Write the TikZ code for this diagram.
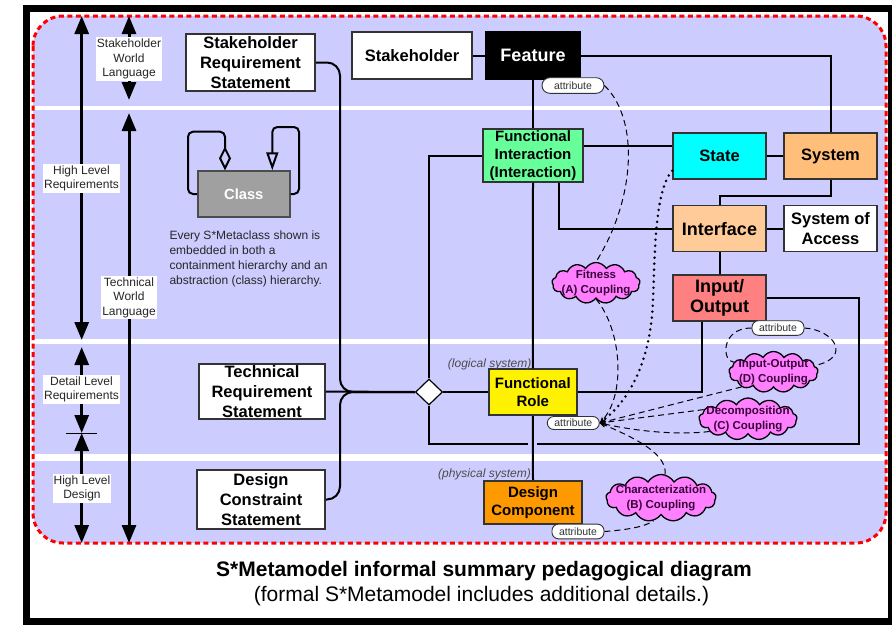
\documentclass[tikz,border=0pt]{standalone}
\usepackage{fontspec}
\setmainfont{Liberation Sans}
\usetikzlibrary{arrows.meta,shapes.geometric,shapes.symbols,calc}

\definecolor{lav}{RGB}{204,204,255}
\definecolor{fgreen}{RGB}{102,255,153}
\definecolor{fcyan}{RGB}{0,255,255}
\definecolor{forange}{RGB}{255,190,122}
\definecolor{fpeach}{RGB}{255,204,153}
\definecolor{fsalmon}{RGB}{255,128,128}
\definecolor{fdeep}{RGB}{255,153,0}
\definecolor{fpink}{RGB}{255,128,255}
\definecolor{cloudink}{RGB}{60,0,60}
\definecolor{clsgray}{RGB}{160,160,160}

\newcommand{\fsz}[2]{\fontsize{#1}{#2}\selectfont}

\begin{document}
\begin{tikzpicture}[x=1pt,y=-1pt,
  box/.style={draw=black!80, line width=1.5pt, align=center, inner sep=0pt,
    font=\bfseries\fsz{16.5}{19.7}},
  conn/.style={line width=2pt, black},
  bigarrow/.style={line width=3pt,
    {Triangle[length=18pt,width=14pt]}-{Triangle[length=18pt,width=14pt]}},
  lbl/.style={fill=white, align=center, font=\fsz{12}{14.5}, text=black!85,
    inner xsep=1pt, inner ysep=1.5pt},
  pill/.style={draw=black!80, fill=white, rounded corners=6.5pt, line width=0.9pt,
    font=\fsz{10.5}{12}, text=black!80, inner sep=0pt,
    minimum width=52pt, minimum height=14pt},
  cloudsty/.style={cloud, cloud puffs=13, cloud puff arc=120, cloud ignores aspect,
    draw=black, fill=fpink, line width=1.3pt, inner sep=0pt},
  ctext/.style={align=center, font=\bfseries\fsz{11.5}{14.8}, text=cloudink, inner sep=0pt},
  dsh/.style={line width=1pt, dash pattern=on 6pt off 4pt},
  dotl/.style={line width=2.8pt, line cap=round, dash pattern=on 0pt off 6pt},
  tipin/.style={-{Stealth[length=6pt,width=5pt]}},
  sysnote/.style={font=\itshape\fsz{12}{14}, text=black!70, inner sep=0pt, anchor=east}
]
\useasboundingbox (0,0) rectangle (892,625);
\fill[white] (0,0) rectangle (892,625);

% outer frame
\draw[line width=7pt] (26.5,8.5) rectangle (891.5,621.5);

% lavender model area with its white level bands and red dashed border
\fill[lav, rounded corners=30pt] (33,16) rectangle (886,543);
\fill[white] (33,106) rectangle (886,110);
\fill[white] (33,339) rectangle (886,344);
\fill[white] (33,454) rectangle (886,461);
\draw[red, line width=3pt, dash pattern=on 5pt off 3.5pt, rounded corners=30pt]
  (33,16) rectangle (886,543);

% level arrows on the left
\coordinate (oa1) at (81.7,16);
\coordinate (oa2) at (81.7,340);
\coordinate (ob1) at (81.7,347);
\coordinate (ob2) at (81.7,433);
\coordinate (oc1) at (81.7,433);
\coordinate (oc2) at (81.7,543);
\coordinate (tk1) at (66,433);
\coordinate (tk2) at (97,433);
\coordinate (ia1) at (129,16);
\coordinate (ia2) at (129,100);
\coordinate (ib1) at (129,113);
\coordinate (ib2) at (129,543);
\draw[bigarrow] (oa1) -- (oa2);
\draw[bigarrow] (ob1) -- (ob2);
\draw[bigarrow] (oc1) -- (oc2);
\draw[line width=1pt] (tk1) -- (tk2);
\draw[bigarrow] (ia1) -- (ia2);
\draw[bigarrow] (ib1) -- (ib2);
\node[lbl] (lhlr) at (81.5,178.5) {High Level\\Requirements};
\node[lbl] (ldlr) at (81.5,389.5) {Detail Level\\Requirements};
\node[lbl] (lhld) at (82,488.5) {High Level\\Design};
\node[lbl] (lswl) at (129,59) {Stakeholder\\World\\Language};
\node[lbl] (ltwl) at (129,297.7) {Technical\\World\\Language};

% class legend
\node[box, fill=clsgray, draw=black!70, text=white, font=\bfseries\fsz{14.7}{17},
  minimum width=92pt, minimum height=46pt] (cls) at (243.8,194) {Class};
\coordinate (lpa) at (188,131.7);
\coordinate (lpb) at (299,127);
\draw[conn, rounded corners=5pt, -{Diamond[open,length=24pt,width=12pt]}]
  (cls.west) -| (lpa) -| (cls.north -| 225,0);
\draw[conn, rounded corners=5pt, -{Triangle[open,length=18pt,width=12pt]}]
  (cls.east) -| (lpb) -| (cls.north -| 272.3,0);
\node[anchor=north west, align=left, font=\fsz{12}{14.7}, text=black!85, inner sep=0pt]
  (note) at (169.3,231) {Every S*Metaclass shown is\\embedded in both a\\containment hierarchy and an\\abstraction (class) hierarchy.};

% metaclasses
\node[box, fill=white, minimum width=129pt, minimum height=57pt] (srs) at (250.5,62.5) {Stakeholder\\Requirement\\Statement};
\node[box, fill=white, minimum width=120pt, minimum height=47pt] (stk) at (412,55.5) {Stakeholder};
\node[box, fill=black, draw=black, text=white, font=\bfseries\fsz{18}{21},
  minimum width=94pt, minimum height=47pt] (feat) at (533,55.5) {Feature};
\node[box, fill=fgreen, font=\bfseries\fsz{15}{18}, minimum width=100pt, minimum height=53pt]
  (fi) at (533,155.5) {Functional\\Interaction\\(Interaction)};
\node[box, fill=fcyan, minimum width=93pt, minimum height=46pt] (state) at (719.5,156) {State};
\node[box, fill=forange, minimum width=93pt, minimum height=46pt] (sys) at (830.5,156) {System};
\node[box, fill=fpeach, font=\bfseries\fsz{18}{21}, minimum width=93pt, minimum height=46pt]
  (iface) at (719.5,228.7) {Interface};
\node[box, fill=white, font=\bfseries\fsz{16.5}{19.3}, minimum width=93pt, minimum height=46pt]
  (soa) at (830.5,228.7) {System of\\Access};
\node[box, fill=fsalmon, font=\bfseries\fsz{18}{20}, minimum width=93pt, minimum height=46pt]
  (io) at (719.5,298) {Input/\\Output};
\node[box, fill=yellow, font=\bfseries\fsz{15}{18.7}, minimum width=88pt, minimum height=46pt]
  (fr) at (532.8,392) {Functional\\Role};
\node[box, fill=fdeep, font=\bfseries\fsz{15}{17.7}, minimum width=98pt, minimum height=43pt]
  (dc) at (533,502.3) {Design\\Component};
\node[box, fill=white, font=\bfseries\fsz{16.5}{20.3}, minimum width=126pt, minimum height=55pt]
  (trs) at (262,391.5) {Technical\\Requirement\\Statement};
\node[box, fill=white, font=\bfseries\fsz{16.5}{20}, minimum width=128pt, minimum height=59pt]
  (dcs) at (261,499.5) {Design\\Constraint\\Statement};
\node[diamond, draw=black, fill=white, line width=1.2pt, minimum width=27pt,
  minimum height=26pt, inner sep=0pt] (dia) at (429,392) {};

\node[sysnote] (lsys) at (531.5,364.5) {(logical system)};
\node[sysnote] (psys) at (531,474) {(physical system)};

% structural connectors
\draw[conn] (stk) -- (feat);
\draw[conn] (feat.east) -| (sys.north);
\draw[conn] (feat.south) -- (fi.north);
\draw[conn] (fi.south) -- (fr.north);
\draw[conn] (fr.south) -- (dc.north);
\draw[conn] (fi.east |- 0,145.7) -- (state.west |- 0,145.7);
\draw[conn] (state) -- (sys);
\draw[conn] (sys.south) -- ++(0,16.7) -| (iface.north);
\draw[conn] (iface) -- (soa);
\draw[conn] (iface) -- (io);
\draw[conn] (iface.west) -| (fi.south -| 559,0);
\draw[conn] (fi.west) -| (dia.north);
\draw[conn] (dia.east) -- (fr.west);
\draw[conn] (fr.east) -| (io.south -| 702,0);
\draw[conn] (trs.east) -- (dia.west);
\draw[conn, rounded corners=13pt] (srs.east) -| (340,392) -- (dia.west);
\draw[conn, rounded corners=13pt] (dcs.east) -| (340,392) -- (dia.west);
\coordinate (gapl) at (528,444);
\coordinate (gapr) at (537,444);
\draw[conn] (io.east) -| (859,444) -- (gapr);
\draw[conn] (gapl) -| (dia.south);

% attributes
\node[pill, minimum width=62pt, minimum height=15.6pt, rounded corners=7.8pt] (attrf) at (573,85.5) {attribute};
\node[pill, minimum height=13pt] (attrr) at (573.3,423) {attribute};
\node[pill, minimum height=14.6pt] (attrio) at (778,328) {attribute};
\node[pill, minimum height=14.7pt] (attrd) at (578,531.5) {attribute};

% couplings
\node[cloudsty, minimum width=88pt, minimum height=41pt] (ca) at (596,283) {};
\node[ctext] (cat) at (ca) {Fitness\\(A) Coupling};
\node[cloudsty, minimum width=89pt, minimum height=41pt] (cd) at (773.5,372) {};
\node[ctext] (cdt) at (cd) {Input-Output\\(D) Coupling};
\node[cloudsty, minimum width=98pt, minimum height=42pt] (cc) at (748,419) {};
\node[ctext] (cct) at (cc) {Decomposition\\(C) Coupling};
\node[cloudsty, minimum width=110pt, minimum height=47pt] (cb) at (661,498) {};
\node[ctext] (cbt) at (cb) {Characterization\\(B) Coupling};

% coupling relations
\draw[dsh] (attrf.east) .. controls (640,120) and (635,200) .. (ca.north);
\draw[dsh, tipin] (ca.south) .. controls (622,330) and (626,395) .. (attrr.east);
\draw[dotl, tipin] (state.west |- 0,170.7) .. controls (655,190) and (655,250) .. (653,300)
  .. controls (651,360) and (630,400) .. (attrr.east);
\draw[dsh, tipin] (cd.205) -- (attrr.east);
\draw[dsh, tipin] (cc.168) -- (attrr.east);
\draw[dsh, tipin] (cc.198) .. controls (680,435) and (640,432) .. (attrr.east);
\draw[dsh, tipin] (cb.80) .. controls (667,455) and (640,440) .. (attrr.east);
\draw[dsh] (attrio.west) .. controls (720,328) and (722,362) .. (cd.166);
\draw[dsh] (attrio.east) .. controls (835,330) and (852,358) .. (cd.9);
\draw[dsh] (attrd.east) .. controls (625,530) and (645,527) .. (cb.252);

% caption
\node[font=\bfseries\fsz{21}{24}] (title) at (484,571) {S*Metamodel informal summary pedagogical diagram};
\node[font=\fsz{21}{24}] (subtitle) at (481.5,596) {(formal S*Metamodel includes additional details.)};
\end{tikzpicture}
\end{document}
